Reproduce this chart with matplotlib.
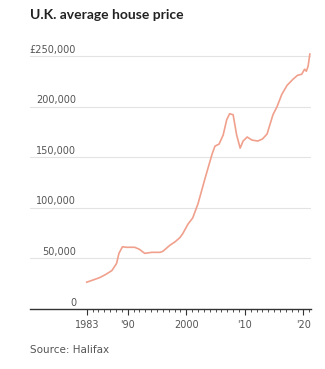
import matplotlib.pyplot as plt

# house price readings (year, thousands of pounds)
years = [1983.0, 1984.0, 1985.2, 1986.2, 1987.3, 1988.1, 1988.5, 1989.1, 1989.8,
         1990.5, 1991.2, 1992.0, 1992.9, 1994.1, 1995.5, 1996.0, 1997.2, 1998.1,
         1998.9, 1999.4, 2000.3, 2001.1, 2002.0, 2003.2, 2004.4, 2004.9, 2005.6,
         2006.3, 2006.9, 2007.4, 2008.0, 2008.6, 2009.2, 2009.7, 2010.4, 2011.2,
         2012.2, 2013.0, 2013.8, 2014.8, 2015.5, 2016.3, 2017.2, 2018.2, 2019.0,
         2019.7, 2020.2, 2020.5, 2020.8, 2021.1]
prices_k = [26.5, 28.5, 31, 34, 38, 45, 55, 61.5, 61, 61, 61, 59, 55, 56, 56,
            57, 63, 66.5, 70.5, 74.5, 84, 90, 104, 129, 153, 161, 163, 172, 187,
            193, 192, 172, 159, 166, 170, 167, 166, 168, 173, 192, 200, 212, 221,
            227, 231, 232, 237, 235, 240, 252]
prices = [p * 1000 for p in prices_k]

y_ticks = [0, 50000, 100000, 150000, 200000, 250000]
y_labels = ["0", "50,000", "100,000", "150,000", "200,000", "£250,000"]
x_ticks = [1983, 1990, 2000, 2010, 2020]
x_labels = ["1983", "'90", "2000", "'10", "'20"]

fig = plt.figure(figsize=(3.25, 3.69), dpi=100)
ax = fig.add_axes([0.092, 0.1626, 0.865, 0.7019])

ax.set_xlim(1973.3, 2021.3)
ax.set_ylim(0, 256000)

# gridlines + labels sitting on them
for v, lab in zip(y_ticks, y_labels):
    if v > 0:
        ax.axhline(v, color="#e3e3e3", lw=0.8, zorder=1)
    ax.annotate(lab, xy=(0.164, v), xycoords=("axes fraction", "data"),
                xytext=(0, 1), textcoords="offset points",
                ha="right", va="bottom", fontsize=7, color="#555555")

ax.plot(years, prices, color="#f0a08c", lw=1.2, zorder=3)

for s in ["top", "right", "left"]:
    ax.spines[s].set_visible(False)
ax.spines["bottom"].set_color("#333333")
ax.spines["bottom"].set_linewidth(1.0)

ax.set_yticks([])
ax.set_xticks(x_ticks)
ax.set_xticklabels(x_labels, fontsize=7, color="#555555")
ax.set_xticks([y for y in range(1983, 2022)], minor=True)
ax.tick_params(axis="x", which="major", length=4, width=0.8, color="#333333", pad=4)
ax.tick_params(axis="x", which="minor", length=2.5, width=0.6, color="#333333")

fig.text(0.092, 0.958, "U.K. average house price", fontsize=10, fontweight="bold",
         family="Lato", color="#222222", ha="left", va="center")
fig.text(0.092, 0.052, "Source: Halifax", fontsize=7.5, color="#555555",
         ha="left", va="center")

fig.savefig("out.png", dpi=100)
